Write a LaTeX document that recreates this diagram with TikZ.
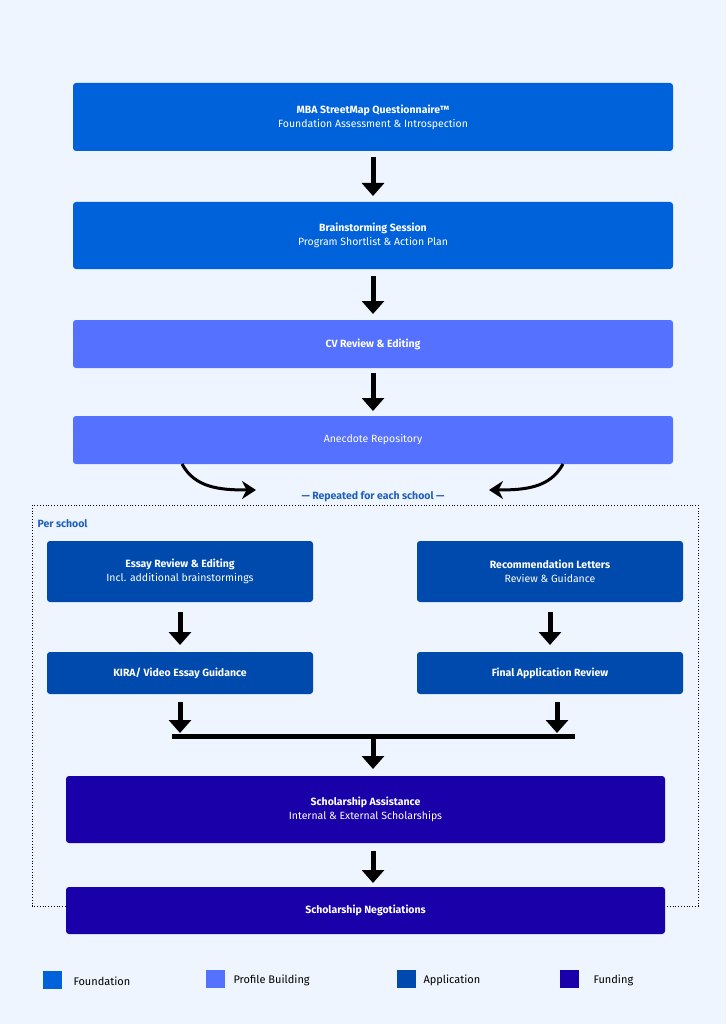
\documentclass[tikz,border=0pt]{standalone}
\usepackage{fontspec}
\setmainfont{Fira Sans}
\usetikzlibrary{arrows.meta}
\definecolor{bg}{HTML}{EEF5FE}
\definecolor{cfound}{HTML}{0062DB}
\definecolor{cprof}{HTML}{5471FF}
\definecolor{capp}{HTML}{004AAD}
\definecolor{cfund}{HTML}{1A00A8}
\definecolor{lbl}{HTML}{1F5FBF}
\begin{document}
\begin{tikzpicture}[x=1pt,y=-1pt,
  box/.style={rounded corners=3pt,text=white,align=center,inner sep=0pt,font=\fontsize{10.5}{14}\selectfont},
  fat/.style={line width=5pt,-{Triangle[length=13pt,width=22pt]}},
  curv/.style={line width=3pt,-{Stealth[length=14pt,width=18pt]}},
  leg/.style={font=\fontsize{11}{13}\selectfont,anchor=west,text=black}]
\fill[bg] (0,0) rectangle (726,1024);
\useasboundingbox (0,0) rectangle (726,1024);
\draw[dotted,thick] (32,505) rectangle (698,906);
\node[box,fill=cfound,minimum width=600pt,minimum height=68pt] (q) at (373,117) {\textbf{MBA StreetMap Questionnaire™}\\Foundation Assessment \& Introspection};
\node[box,fill=cfound,minimum width=600pt,minimum height=67pt] (b) at (373,235.5) {\textbf{Brainstorming Session}\\Program Shortlist \& Action Plan};
\node[box,fill=cprof,minimum width=600pt,minimum height=48pt] (cv) at (373,344) {\textbf{CV Review \& Editing}};
\node[box,fill=cprof,minimum width=600pt,minimum height=48pt] (an) at (373,440) {Anecdote Repository};
\node[font=\fontsize{10.5}{12}\selectfont\bfseries,text=lbl] (rep) at (373,497) {— Repeated for each school —};
\node[font=\fontsize{10.5}{12}\selectfont\bfseries,text=lbl,anchor=west] (per) at (34,524) {Per school};
\node[box,fill=capp,minimum width=266pt,minimum height=61pt] (es) at (180,571.5) {\textbf{Essay Review \& Editing}\\Incl. additional brainstormings};
\node[box,fill=capp,minimum width=266pt,minimum height=61pt] (rl) at (550,571.5) {\textbf{Recommendation Letters}\\Review \& Guidance};
\node[box,fill=capp,minimum width=266pt,minimum height=42pt] (ki) at (180,673) {\textbf{KIRA/ Video Essay Guidance}};
\node[box,fill=capp,minimum width=266pt,minimum height=42pt] (fa) at (550,673) {\textbf{Final Application Review}};
\node[box,fill=cfund,minimum width=599pt,minimum height=67pt] (sa) at (365.5,809.5) {\textbf{Scholarship Assistance}\\Internal \& External Scholarships};
\node[box,fill=cfund,minimum width=599pt,minimum height=47pt] (sn) at (365.5,910.5) {\textbf{Scholarship Negotiations}};
\coordinate (bl) at (172,736); \coordinate (br) at (575,736);
\draw[line width=5pt] (bl) -- (br);
\draw[fat] (373,157) -- (373,196);
\draw[fat] (373,276) -- (373,314);
\draw[fat] (373,373) -- (373,411);
\draw[fat] (180,612) -- (180,645);
\draw[fat] (550,612) -- (550,645);
\draw[fat] (180,702) -- (180,733);
\draw[fat] (557,702) -- (557,733);
\draw[fat] (373,738) -- (373,769);
\draw[fat] (373,851) -- (373,883);
\draw[curv] (182,464) .. controls (195,488) and (220,490) .. (256,490);
\draw[curv] (563,464) .. controls (550,488) and (525,490) .. (489,490);
\fill[cfound] (43,971) rectangle (62,989); \node[leg] (l1) at (70,981) {Foundation};
\fill[cprof] (206,970) rectangle (225,988); \node[leg] (l2) at (230,980) {Profile Building};
\fill[capp] (397,970) rectangle (416,988); \node[leg] (l3) at (420,980) {Application};
\fill[cfund] (560,970) rectangle (579,988); \node[leg] (l4) at (590,980) {Funding};
\end{tikzpicture}
\end{document}
